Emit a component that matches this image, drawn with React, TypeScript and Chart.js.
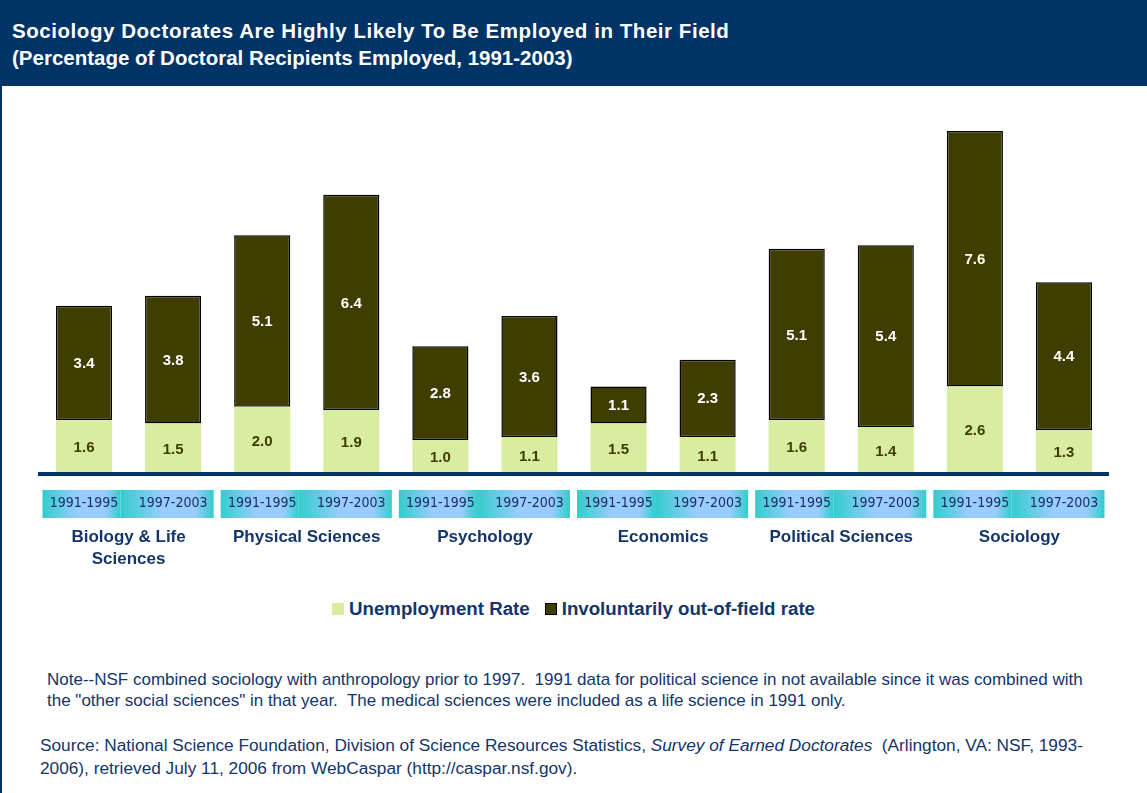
import React, { useEffect, useRef } from "react";
import { Chart, registerables } from "chart.js";

Chart.register(...registerables);

// ---- data ----
const periodLabels = [
  "1991-1995", "1997-2003",
  "1991-1995", "1997-2003",
  "1991-1995", "1997-2003",
  "1991-1995", "1997-2003",
  "1991-1995", "1997-2003",
  "1991-1995", "1997-2003",
];
const fieldLabels: (string | string[])[] = [
  ["Biology & Life", "Sciences"],
  "Physical Sciences",
  "Psychology",
  "Economics",
  "Political Sciences",
  "Sociology",
];
const unemploymentRate = [1.6, 1.5, 2.0, 1.9, 1.0, 1.1, 1.5, 1.1, 1.6, 1.4, 2.6, 1.3];
const outOfFieldRate = [3.4, 3.8, 5.1, 6.4, 2.8, 3.6, 1.1, 2.3, 5.1, 5.4, 7.6, 4.4];
const seriesNames = ["Unemployment Rate", "Involuntarily out-of-field rate"];

const GREEN = "#d9eda0";
const OLIVE = "#403d00";
const NAVY = "#003366";
const TEXT_NAVY = "#13356a";
const FONT = '"Liberation Sans", Arial, Helvetica, sans-serif';
const NARROW = '"DejaVu Sans Condensed", "Liberation Sans Narrow", "Arial Narrow", sans-serif';

export default function App() {
  const ref = useRef<HTMLCanvasElement>(null);

  useEffect(() => {
    const canvas = ref.current;
    if (!canvas) return;

    const yearBoxes = {
      id: "yearBoxes",
      beforeDraw(chart: any) {
        const x = chart.scales.x;
        const ctx = chart.ctx;
        const half = (x.getPixelForValue(1) - x.getPixelForValue(0)) / 2;
        const top = x.top + 16;
        const h = 28;
        ctx.save();
        for (let g = 0; g < fieldLabels.length; g++) {
          const c0 = x.getPixelForValue(2 * g);
          const c1 = x.getPixelForValue(2 * g + 1);
          const l = c0 - half + 3;
          const r = c1 + half - 4;
          const mid = (c0 + c1) / 2 - 8;
          [[l, mid], [mid, r]].forEach(([a, b]) => {
            const grad = ctx.createLinearGradient(a, 0, b, 0);
            grad.addColorStop(0, "#33cccc");
            grad.addColorStop(0.45, "#99ccff");
            grad.addColorStop(0.8, "#99ccff");
            grad.addColorStop(1, "#33cccc");
            ctx.fillStyle = grad;
            ctx.fillRect(a, top, b - a, h);
          });
        }
        ctx.restore();
      },
    };

    const valueLabels = {
      id: "valueLabels",
      afterDatasetsDraw(chart: any) {
        const ctx = chart.ctx;
        ctx.save();
        ctx.font = `bold 15px ${FONT}`;
        ctx.textAlign = "center";
        ctx.textBaseline = "middle";
        chart.data.datasets.forEach((ds: any, di: number) => {
          const meta = chart.getDatasetMeta(di);
          meta.data.forEach((el: any, i: number) => {
            const { x, y, base } = el.getProps(["x", "y", "base"], true);
            ctx.fillStyle = di === 0 ? OLIVE : "#ffffff";
            ctx.fillText(Number(ds.data[i]).toFixed(1), x, (y + base) / 2 + 1);
          });
        });
        ctx.restore();
      },
    };

    const chart = new Chart(canvas, {
      type: "bar",
      data: {
        labels: periodLabels,
        datasets: [
          {
            label: seriesNames[0],
            data: unemploymentRate,
            backgroundColor: GREEN,
            borderWidth: 0,
          },
          {
            label: seriesNames[1],
            data: outOfFieldRate,
            backgroundColor: OLIVE,
            borderColor: "#000000",
            borderWidth: 1.5,
            borderSkipped: false,
          },
        ],
      },
      options: {
        responsive: false,
        maintainAspectRatio: false,
        animation: false,
        devicePixelRatio: 1,
        layout: { padding: { left: 39.5, right: 38.5, top: 18, bottom: 0 } },
        datasets: { bar: { categoryPercentage: 1, barPercentage: 0.63 } },
        plugins: {
          legend: { display: false },
          tooltip: { enabled: false },
          title: { display: false },
        },
        scales: {
          x: {
            type: "category",
            stacked: true,
            position: "bottom",
            weight: 0,
            offset: true,
            grid: { display: false, drawTicks: false },
            border: { display: true, color: NAVY, width: 4, z: 1 },
            ticks: {
              autoSkip: false,
              maxRotation: 0,
              padding: 21,
              color: "#1a2b5e",
              font: { family: NARROW, size: 14, lineHeight: 1.2 },
            },
            afterFit: (s: any) => {
              s.height = 40;
            },
          },
          x2: {
            type: "category",
            labels: fieldLabels as any,
            position: "bottom",
            weight: 1,
            offset: true,
            grid: { display: false, drawTicks: false },
            border: { display: false },
            ticks: {
              autoSkip: false,
              maxRotation: 0,
              padding: 12,
              color: TEXT_NAVY,
              font: { family: FONT, size: 17, weight: "bold", lineHeight: 1.3 },
            },
            afterFit: (s: any) => {
              s.height = 60;
            },
          },
          y: {
            stacked: true,
            display: false,
            min: 0,
            max: 11,
          },
        },
      },
      plugins: [yearBoxes, valueLabels],
    } as any);

    return () => chart.destroy();
  }, []);

  const legendColors = [GREEN, OLIVE];

  return (
    <div
      style={{
        position: "absolute",
        left: 0,
        top: 0,
        width: 1147,
        height: 793,
        background: "#ffffff",
        fontFamily: FONT,
        overflow: "hidden",
      }}
    >
      <div
        style={{
          position: "absolute",
          left: 0,
          top: 0,
          width: 1147,
          height: 86,
          background: NAVY,
          color: "#ffffff",
          fontWeight: "bold",
          fontSize: 20.5,
        }}
      >
        <div
          style={{
            position: "absolute",
            left: 12,
            top: 31,
            transform: "translateY(-50%)",
            whiteSpace: "nowrap",
            letterSpacing: 0.55,
          }}
        >
          Sociology Doctorates Are Highly Likely To Be Employed in Their Field
        </div>
        <div style={{ position: "absolute", left: 12, top: 58, transform: "translateY(-50%)", whiteSpace: "nowrap" }}>
          (Percentage of Doctoral Recipients Employed, 1991-2003)
        </div>
      </div>
      <div style={{ position: "absolute", left: 0, top: 86, width: 2, height: 707, background: NAVY }} />

      <canvas
        ref={ref}
        width={1147}
        height={488}
        style={{ position: "absolute", left: 0, top: 86, width: 1147, height: 488 }}
      />

      <div
        style={{
          position: "absolute",
          left: 332,
          top: 598,
          height: 22,
          display: "flex",
          alignItems: "center",
          whiteSpace: "nowrap",
          fontWeight: "bold",
          fontSize: 18.7,
          color: TEXT_NAVY,
        }}
      >
        {seriesNames.map((name, i) => (
          <div key={name} style={{ display: "flex", alignItems: "center", marginRight: i === 0 ? 15 : 0 }}>
            <span
              style={{
                display: "inline-block",
                width: i === 0 ? 12 : 10,
                height: i === 0 ? 12 : 10,
                background: legendColors[i],
                border: i === 0 ? "none" : "1.5px solid #000",
                marginRight: 5,
              }}
            />
            <span>{name}</span>
          </div>
        ))}
      </div>

      <div
        style={{
          position: "absolute",
          left: 47,
          top: 669,
          fontSize: 17,
          lineHeight: "21px",
          color: TEXT_NAVY,
          whiteSpace: "pre",
        }}
      >
        {"Note--NSF combined sociology with anthropology prior to 1997.  1991 data for political science in not available since it was combined with\nthe \"other social sciences\" in that year.  The medical sciences were included as a life science in 1991 only."}
      </div>

      <div
        style={{
          position: "absolute",
          left: 40,
          top: 734,
          fontSize: 17.25,
          lineHeight: "23px",
          color: TEXT_NAVY,
          whiteSpace: "pre",
        }}
      >
        {"Source: National Science Foundation, Division of Science Resources Statistics, "}
        <i>Survey of Earned Doctorates</i>
        {"  (Arlington, VA: NSF, 1993-\n2006), retrieved July 11, 2006 from WebCaspar (http://caspar.nsf.gov)."}
      </div>
    </div>
  );
}
